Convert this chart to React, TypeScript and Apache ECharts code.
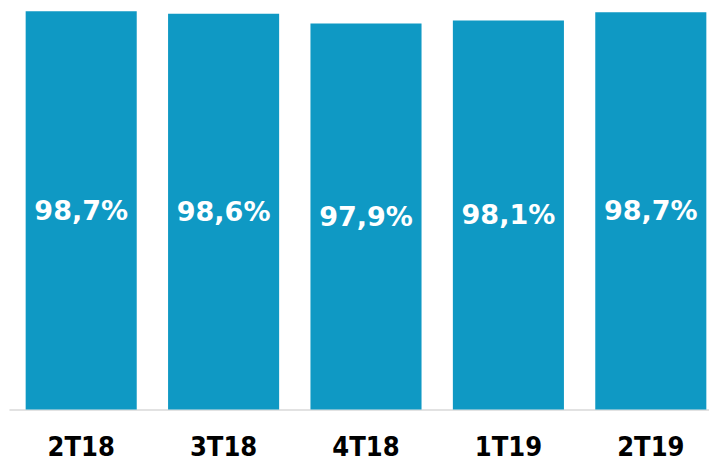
import React, { useEffect, useRef } from "react";
import * as echarts from "echarts";

const categories = ["2T18", "3T18", "4T18", "1T19", "2T19"];
const values = [98.74, 98.57, 97.93, 98.13, 98.68];
const axisMin = 72;
const axisMax = 99.5;

export default function App() {
  const ref = useRef<HTMLDivElement>(null);
  useEffect(() => {
    const chart = echarts.init(ref.current!, null, { renderer: "svg" });
    chart.setOption({
      animation: false,
      backgroundColor: "#ffffff",
      grid: { left: 10, top: 0, width: 712, bottom: 48.5, containLabel: false },
      xAxis: {
        type: "category",
        data: categories,
        axisLine: { show: true, lineStyle: { color: "#d9d9d9", width: 1.5 } },
        axisTick: { show: false },
        axisLabel: {
          color: "#000000",
          fontFamily: "DejaVu Sans Condensed",
          fontWeight: "bold",
          fontSize: 27,
          lineHeight: 20,
          margin: 27,
        },
      },
      yAxis: {
        type: "value",
        min: axisMin,
        max: axisMax,
        show: false,
        splitLine: { show: false },
      },
      series: [
        {
          type: "bar",
          data: values,
          barCategoryGap: "22%",
          itemStyle: { color: "#0f99c4" },
          label: {
            show: true,
            position: "inside",
            color: "#ffffff",
            fontFamily: "DejaVu Sans",
            fontWeight: "bold",
            fontSize: 27,
            formatter: (p: any) => p.value.toFixed(1).replace(".", ",") + "%",
          },
        },
      ],
    });
    return () => chart.dispose();
  }, []);
  return (
    <div
      style={{ position: "absolute", left: 0, top: 0, width: 709, height: 460, overflow: "hidden" }}
    >
      <div ref={ref} style={{ width: 730, height: 460 }} />
    </div>
  );
}
